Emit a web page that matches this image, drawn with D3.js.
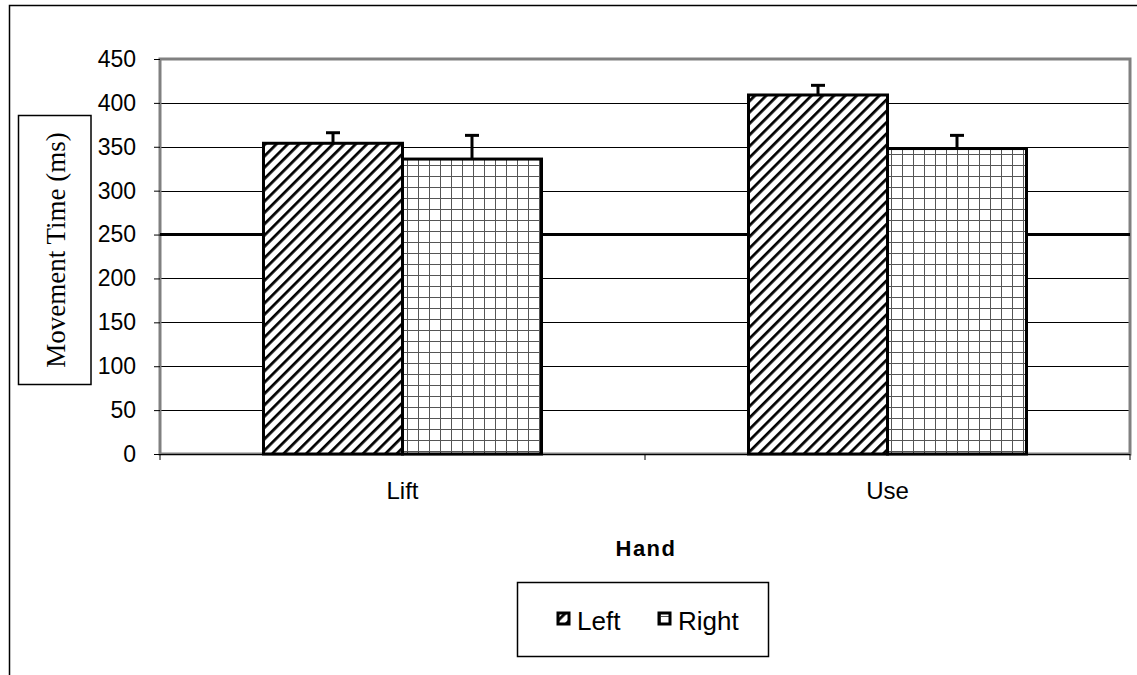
<!DOCTYPE html>
<html lang="en">
<head>
<meta charset="UTF-8">
<title>Movement Time by Hand</title>
<script src="https://d3js.org/d3.v7.min.js"></script>
<style>
  body { margin: 0; background: #fff; }
  text { font-family: Arial, "Liberation Sans", sans-serif; fill: #000; }
</style>
</head>
<body>
<div id="chart"></div>
<script>
// data
var categories = ["Lift", "Use"];
var seriesNames = ["Left", "Right"];
var leftValues = [354, 409];
var rightValues = [336, 348];
var leftErrors = [12, 11];
var rightErrors = [27, 15];
var yTicks = [0, 50, 100, 150, 200, 250, 300, 350, 400, 450];
var referenceValue = 250;

var width = 1137, height = 675;
var plot = { left: 160, right: 1130, top: 59, bottom: 454 };

var svg = d3.select("#chart").append("svg")
    .attr("width", width)
    .attr("height", height);

// patterns
var defs = svg.append("defs");
var hatch = defs.append("pattern")
    .attr("id", "hatch")
    .attr("patternUnits", "userSpaceOnUse")
    .attr("width", 8).attr("height", 8)
    .attr("patternTransform", "rotate(45)");
hatch.append("rect").attr("width", 8).attr("height", 8).attr("fill", "#fff");
hatch.append("line").attr("x1", 0).attr("y1", 0).attr("x2", 0).attr("y2", 8)
    .attr("stroke", "#000").attr("stroke-width", 5.5);

var grid = defs.append("pattern")
    .attr("id", "grid")
    .attr("patternUnits", "userSpaceOnUse")
    .attr("width", 11).attr("height", 11);
grid.append("rect").attr("width", 11).attr("height", 11).attr("fill", "#fff");
grid.append("path").attr("d", "M0.5,0V11M0,0.5H11")
    .attr("stroke", "#555").attr("stroke-width", 1).attr("fill", "none");

// outer frame
svg.append("path")
    .attr("d", "M9.5,675V5.5H1137")
    .attr("fill", "none").attr("stroke", "#000").attr("stroke-width", 1.5);

// scales
var y = d3.scaleLinear().domain([0, 450]).range([plot.bottom, plot.top]);
var x0 = d3.scaleBand().domain(categories).range([plot.left, plot.right]).padding(0);
var groupWidth = 278;
var x1 = d3.scaleBand().domain(seriesNames)
    .range([(x0.bandwidth() - groupWidth) / 2, (x0.bandwidth() + groupWidth) / 2]).padding(0);

// gridlines
svg.append("g").selectAll("line")
    .data(yTicks.filter(function (d) { return d > 0; }))
    .enter().append("line")
    .attr("x1", plot.left).attr("x2", plot.right)
    .attr("y1", function (d) { return Math.round(y(d)) + 0.5; })
    .attr("y2", function (d) { return Math.round(y(d)) + 0.5; })
    .attr("stroke", "#000").attr("stroke-width", 1);

// plot area border
svg.append("rect")
    .attr("x", plot.left).attr("y", plot.top)
    .attr("width", plot.right - plot.left).attr("height", plot.bottom - plot.top)
    .attr("fill", "none").attr("stroke", "#808080").attr("stroke-width", 3);

// reference line
svg.append("line")
    .attr("x1", plot.left).attr("x2", plot.right)
    .attr("y1", y(referenceValue)).attr("y2", y(referenceValue))
    .attr("stroke", "#000").attr("stroke-width", 3);

// bars
var flat = [];
categories.forEach(function (c, i) {
    flat.push({ cat: c, series: "Left", value: leftValues[i], err: leftErrors[i], fill: "url(#hatch)" });
    flat.push({ cat: c, series: "Right", value: rightValues[i], err: rightErrors[i], fill: "url(#grid)" });
});

var bars = svg.append("g");
// error bars (drawn first so bar outline covers the base)
bars.selectAll(".err").data(flat).enter().append("g").each(function (d) {
    var cx = x0(d.cat) + x1(d.series) + x1.bandwidth() / 2;
    var g = d3.select(this);
    g.append("line").attr("x1", cx).attr("x2", cx)
        .attr("y1", y(d.value)).attr("y2", y(d.value + d.err))
        .attr("stroke", "#000").attr("stroke-width", 3);
    g.append("line").attr("x1", cx - 7).attr("x2", cx + 7)
        .attr("y1", y(d.value + d.err)).attr("y2", y(d.value + d.err))
        .attr("stroke", "#000").attr("stroke-width", 3);
});
bars.selectAll("rect").data(flat).enter().append("rect")
    .attr("x", function (d) { return x0(d.cat) + x1(d.series); })
    .attr("y", function (d) { return y(d.value); })
    .attr("width", x1.bandwidth())
    .attr("height", function (d) { return y(0) - y(d.value); })
    .attr("fill", function (d) { return d.fill; })
    .attr("stroke", "#000").attr("stroke-width", 3);

// y axis
var yAxis = svg.append("g")
    .attr("transform", "translate(" + plot.left + ",0)")
    .call(d3.axisLeft(y).tickValues(yTicks).tickSize(6).tickPadding(18));
yAxis.select(".domain").remove();
yAxis.selectAll("line").attr("stroke", "#000");
yAxis.selectAll("text").attr("font-size", 23).attr("font-family", "Arial, 'Liberation Sans', sans-serif");

// x axis
svg.append("line")
    .attr("x1", plot.left - 6).attr("x2", plot.right)
    .attr("y1", plot.bottom + 0.5).attr("y2", plot.bottom + 0.5)
    .attr("stroke", "#000");
svg.append("g").selectAll("line")
    .data([plot.left, x0("Use"), plot.right])
    .enter().append("line")
    .attr("x1", function (d) { return d; }).attr("x2", function (d) { return d; })
    .attr("y1", plot.bottom).attr("y2", plot.bottom + 6)
    .attr("stroke", "#000");
svg.append("g").selectAll("text")
    .data(categories).enter().append("text")
    .attr("x", function (d) { return x0(d) + x0.bandwidth() / 2; })
    .attr("y", 499)
    .attr("text-anchor", "middle")
    .attr("font-size", 24)
    .text(function (d) { return d; });

// x axis title
svg.append("text")
    .attr("x", 646).attr("y", 556)
    .attr("text-anchor", "middle")
    .attr("font-size", 22).attr("font-weight", "bold")
    .attr("letter-spacing", 1.5)
    .text("Hand");

// y axis title box
svg.append("rect")
    .attr("x", 18.5).attr("y", 115.5).attr("width", 72.5).attr("height", 269)
    .attr("fill", "#fff").attr("stroke", "#000").attr("stroke-width", 1.5);
svg.append("text")
    .attr("transform", "translate(65,250) rotate(-90)")
    .attr("text-anchor", "middle")
    .attr("font-size", 27)
    .style("font-family", "'Liberation Serif', 'DejaVu Serif', serif")
    .text("Movement Time (ms)");

// legend
var legend = svg.append("g");
legend.append("rect")
    .attr("x", 517.5).attr("y", 582.5).attr("width", 251).attr("height", 74)
    .attr("fill", "#fff").attr("stroke", "#000").attr("stroke-width", 1.5);
var legendItems = [
    { name: seriesNames[0], fill: "url(#hatch)", x: 558 },
    { name: seriesNames[1], fill: "url(#grid)", x: 659 }
];
legend.selectAll(".item").data(legendItems).enter().append("g").each(function (d) {
    var g = d3.select(this);
    g.append("rect").attr("x", d.x).attr("y", 613).attr("width", 11).attr("height", 11)
        .attr("fill", d.fill).attr("stroke", "#000").attr("stroke-width", 3);
    g.append("text").attr("x", d.x + 19).attr("y", 630)
        .attr("font-size", 26).text(d.name);
});
</script>
</body>
</html>
